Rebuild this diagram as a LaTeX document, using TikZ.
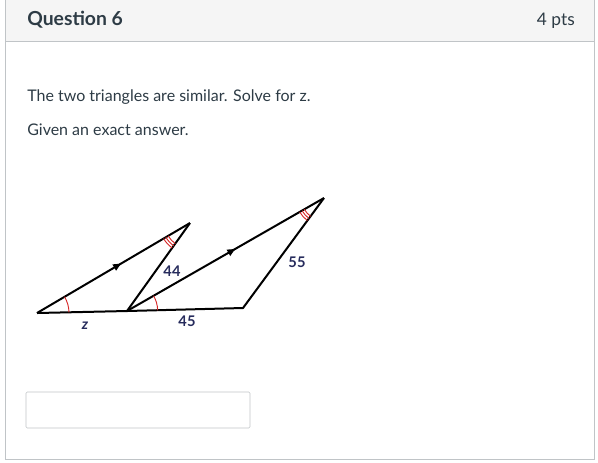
\documentclass[tikz,border=0pt]{standalone}
\usepackage{fontspec}
\setmainfont{Lato}
\usetikzlibrary{angles,calc,arrows.meta,decorations.markings}
\begin{document}
\begin{tikzpicture}[x=0.75pt, y=-0.75pt,
    label-text/.style={text=label-navy, font=\fontsize{11}{13}\selectfont\bfseries},
    page-text/.style={anchor=base west, inner sep=0pt, text=text-dark},
    mid-arrow/.style={decoration={markings, mark=at position #1 with {\arrow{Triangle[length=6pt,width=5pt]}}}, postaction=decorate}]
    \definecolor{frame-gray}{RGB}{192,196,199}
    \definecolor{head-gray}{RGB}{245,245,245}
    \definecolor{text-dark}{RGB}{45,59,69}
    \definecolor{label-navy}{RGB}{38,43,92}
    \definecolor{arc-red}{RGB}{214,40,40}
    \def\arcs#1#2{pic[draw=arc-red, line width=0.7pt, angle radius=#1] {angle=#2}}
    \useasboundingbox (0,0) rectangle (598,462);
    % frame and header
    \fill[head-gray] (5,0) rectangle (594,41);
    \draw[frame-gray] (5,-1) -- (5,459) -- (594,459) -- (594,-1);
    \draw[frame-gray] (5,41) -- (594,41);
    \node[page-text, font=\fontsize{14.5}{17}\selectfont\bfseries] (title) at (27,25) {Question 6};
    \node[page-text, anchor=base east, font=\fontsize{13}{15}\selectfont] (pts) at (575,25) {4 pts};
    \node[page-text, font=\fontsize{12}{14}\selectfont] (task) at (27,101) {The two triangles are similar. Solve for z.};
    \node[page-text, font=\fontsize{12}{14}\selectfont] (hint) at (27,135) {Given an exact answer.};
    % triangles
    \coordinate (A) at (37,313);
    \coordinate (B) at (127,311);
    \coordinate (C) at (190,223);
    \coordinate (D) at (243,308);
    \coordinate (E) at (324,198);
    \draw[line width=1.5pt, mid-arrow=0.55] (A) -- (C);
    \draw[line width=1.5pt, mid-arrow=0.55] (B) -- (E);
    \draw[line width=1.5pt, line join=round] (C) -- (B) (E) -- (D) -- (B) -- (A);
    \path \arcs{24pt}{B--A--C};
    \path \arcs{23pt}{D--B--E};
    \path \arcs{19pt}{A--C--B} \arcs{21pt}{A--C--B} \arcs{23pt}{A--C--B};
    \path \arcs{17pt}{B--E--D} \arcs{19pt}{B--E--D} \arcs{21pt}{B--E--D};
    \node[label-text] (lab44) at (172,271) {44};
    \node[label-text] (lab55) at (297,262) {55};
    \node[label-text] (labz) at (85,326) {\itshape z};
    \node[label-text] (lab45) at (187,321) {45};
    % answer box
    \draw[frame-gray, rounded corners=1pt] (26,392) rectangle (250,428);
\end{tikzpicture}
\end{document}
